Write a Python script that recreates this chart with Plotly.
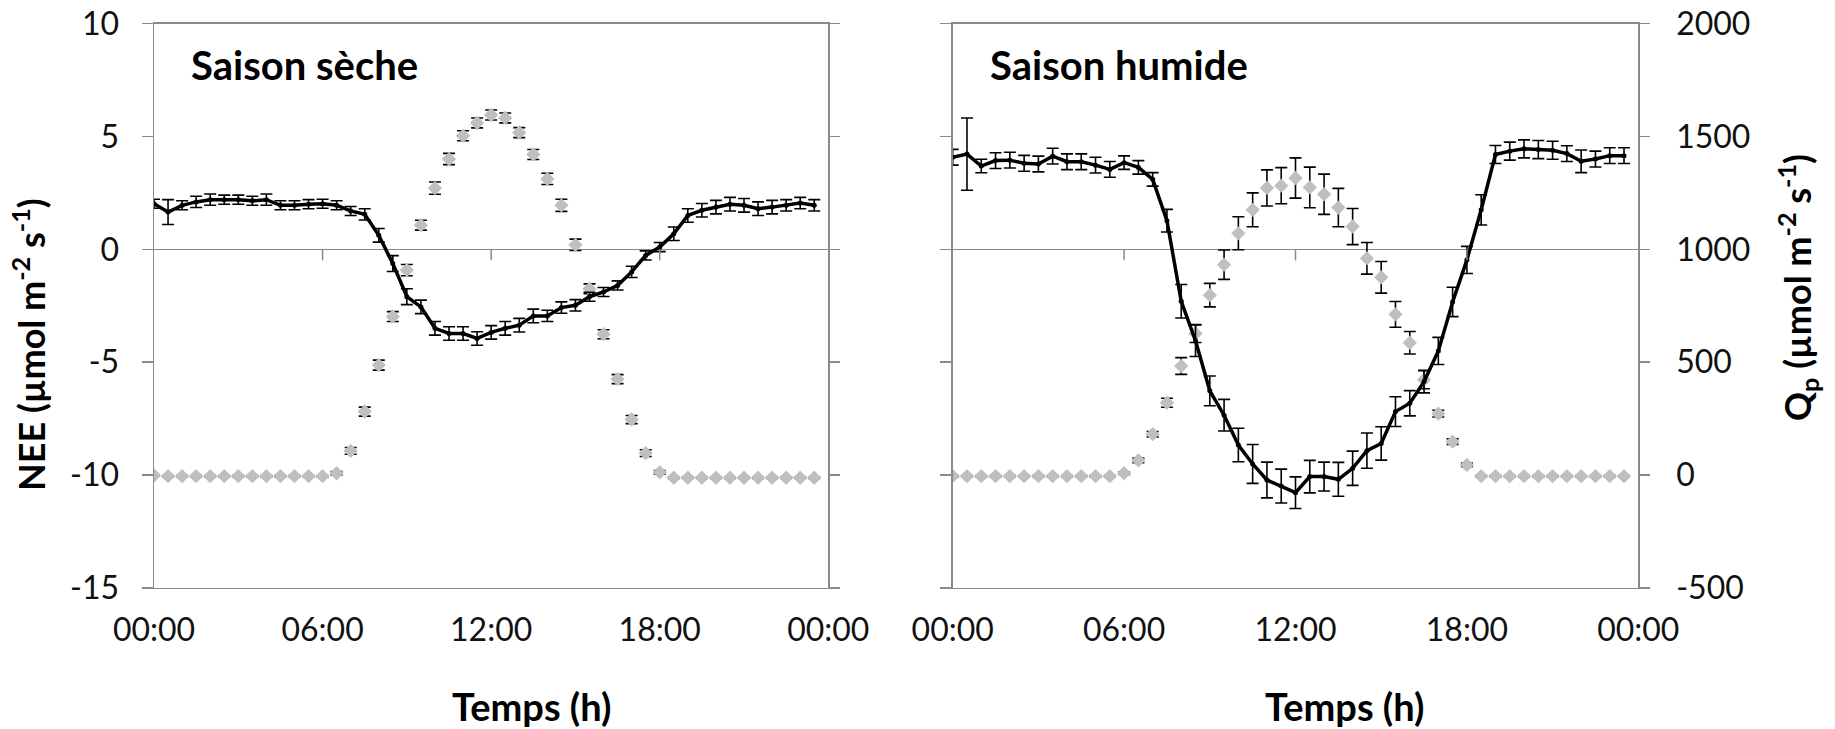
import plotly.graph_objects as go

# ---------------- data ----------------
hours = [0, 0.5, 1, 1.5, 2, 2.5, 3, 3.5, 4, 4.5, 5, 5.5, 6, 6.5, 7, 7.5, 8, 8.5, 9, 9.5,
         10, 10.5, 11, 11.5, 12, 12.5, 13, 13.5, 14, 14.5, 15, 15.5, 16, 16.5, 17, 17.5,
         18, 18.5, 19, 19.5, 20, 20.5, 21, 21.5, 22, 22.5, 23, 23.5]

tick_vals = [0, 6, 12, 18, 24]
tick_text = ["00:00", "06:00", "12:00", "18:00", "00:00"]
nee_ticks = [-15, -10, -5, 0, 5, 10]
nee_tick_text = ["-15", "-10", "-5", "0", "5", "10"]
qp_ticks = [-500, 0, 500, 1000, 1500, 2000]
qp_tick_text = ["-500", "0", "500", "1000", "1500", "2000"]

# Saison sèche
nee_dry = [2.02, 1.65, 1.95, 2.1, 2.2, 2.2, 2.2, 2.15, 2.2, 1.95, 1.95, 2.0, 2.02, 1.95, 1.7, 1.55,
           0.62, -0.63, -2.1, -2.55, -3.5, -3.73, -3.73, -3.95, -3.68, -3.5, -3.36, -2.95, -2.95,
           -2.58, -2.48, -2.1, -1.89, -1.6, -1.0, -0.27, 0.1, 0.69, 1.5, 1.73, 1.87, 2.0, 1.95,
           1.8, 1.87, 1.95, 2.05, 1.95]
nee_dry_err = [0.2, 0.55, 0.2, 0.25, 0.25, 0.2, 0.2, 0.2, 0.25, 0.2, 0.2, 0.2, 0.2, 0.2, 0.2, 0.25,
               0.3, 0.35, 0.35, 0.3, 0.3, 0.3, 0.3, 0.3, 0.3, 0.3, 0.3, 0.3, 0.25, 0.25, 0.25, 0.2,
               0.2, 0.2, 0.25, 0.2, 0.2, 0.3, 0.3, 0.3, 0.3, 0.3, 0.3, 0.3, 0.3, 0.25, 0.25, 0.25]
qp_dry = [-2, -5, -5, -5, -5, -5, -5, -5, -5, -5, -5, -5, -5, 8, 107, 281, 487, 702, 908, 1107,
          1271, 1400, 1503, 1560, 1595, 1582, 1517, 1420, 1312, 1195, 1020, 825, 624, 425, 246,
          97, 12, -12, -12, -12, -12, -12, -12, -12, -12, -12, -12, -12]
qp_dry_err = [3, 3, 3, 3, 3, 3, 3, 3, 3, 3, 3, 3, 3, 8, 15, 20, 22, 22, 25, 22, 27, 25, 22, 22,
              22, 22, 22, 22, 25, 27, 25, 22, 20, 20, 18, 15, 8, 3, 3, 3, 3, 3, 3, 3, 3, 3, 3, 3]

# Saison humide
nee_wet = [4.08, 4.22, 3.69, 3.93, 3.95, 3.81, 3.78, 4.13, 3.88, 3.88, 3.73, 3.54, 3.84, 3.63,
           3.1, 1.27, -2.3, -4.05, -6.27, -7.35, -8.67, -9.51, -10.22, -10.49, -10.78, -10.07,
           -10.07, -10.19, -9.7, -8.92, -8.6, -7.19, -6.82, -5.86, -4.5, -2.33, -0.47, 1.75,
           4.2, 4.35, 4.45, 4.42, 4.39, 4.24, 3.9, 4.0, 4.15, 4.15]
nee_wet_err = [0.35, 1.6, 0.3, 0.35, 0.35, 0.35, 0.35, 0.35, 0.35, 0.35, 0.35, 0.35, 0.3, 0.3,
               0.3, 0.5, 0.74, 0.7, 0.66, 0.7, 0.74, 0.86, 0.79, 0.75, 0.7, 0.72, 0.64, 0.75,
               0.76, 0.78, 0.74, 0.66, 0.56, 0.5, 0.6, 0.65, 0.6, 0.67, 0.4, 0.4, 0.4, 0.4, 0.4,
               0.35, 0.5, 0.35, 0.35, 0.35]
qp_wet = [-5, -5, -5, -5, -5, -5, -5, -5, -5, -5, -5, -5, 8, 65, 181, 320, 483, 627, 797, 932,
          1071, 1175, 1272, 1282, 1316, 1274, 1244, 1185, 1101, 960, 876, 712, 586, 422, 272,
          148, 45, -5, -5, -5, -5, -5, -5, -5, -5, -5, -5, -5]
qp_wet_err = [3, 3, 3, 3, 3, 3, 3, 3, 3, 3, 3, 3, 5, 10, 12, 20, 37, 40, 52, 65, 73, 75, 80, 80,
              89, 90, 89, 85, 80, 70, 70, 57, 50, 40, 15, 12, 8, 3, 3, 3, 3, 3, 3, 3, 3, 3, 3, 3]

# ---------------- style ----------------
W, H = 1835, 729
AX = "#8a8a8a"
GREY = "#BFBFBF"
FONT = "Lato"
TXT = "#111111"
tickfont = dict(family=FONT, size=32, color=TXT)

yd = [1 - 587.9 / H, 1 - 23.6 / H]
xd1 = [154 / W, 828.3 / W]
xd2 = [952.7 / W, 1638.3 / W]

fig = go.Figure()


def add_panel(xa, ya_qp, ya_nee, nee, nee_err, qp, qp_err):
    fig.add_trace(go.Scatter(
        x=hours, y=qp, xaxis=xa, yaxis=ya_qp, mode="markers",
        marker=dict(symbol="diamond", size=11, color=GREY),
        error_y=dict(type="data", array=qp_err, visible=True, color="#000000",
                     thickness=1.6, width=6),
        showlegend=False))
    fig.add_trace(go.Scatter(
        x=hours, y=nee, xaxis=xa, yaxis=ya_nee, mode="lines+markers",
        line=dict(color="#000000", width=3.5),
        marker=dict(symbol="circle", size=5, color="#000000"),
        error_y=dict(type="data", array=nee_err, visible=True, color="#000000",
                     thickness=1.6, width=6),
        showlegend=False))


add_panel("x", "y", "y2", nee_dry, nee_dry_err, qp_dry, qp_dry_err)
add_panel("x2", "y3", "y4", nee_wet, nee_wet_err, qp_wet, qp_wet_err)

xcommon = dict(range=[0, 24], tickvals=tick_vals, ticktext=tick_text, ticks="",
               showline=True, linecolor=AX, linewidth=1.5, mirror=True,
               showgrid=False, zeroline=False, tickfont=tickfont,
               ticklabelstandoff=13, automargin=False, fixedrange=True)
qpcommon = dict(range=[-500, 2000], tickvals=qp_ticks, ticktext=qp_tick_text, side="right",
                ticks="outside", ticklen=10, tickwidth=1.5, tickcolor=AX, showline=True,
                linecolor=AX, linewidth=1.5, showgrid=False, zeroline=False, tickfont=tickfont,
                automargin=False, domain=yd, fixedrange=True)
neecommon = dict(range=[-15, 10], tickvals=nee_ticks, ticktext=nee_tick_text, side="left",
                 ticks="outside", ticklen=11, tickwidth=1.5, tickcolor=AX, showline=True,
                 linecolor=AX, linewidth=1.5, showgrid=False, zeroline=True, zerolinecolor=AX,
                 zerolinewidth=1.5, tickfont=tickfont, automargin=False, fixedrange=True)

fig.update_layout(
    width=W, height=H, autosize=False,
    margin=dict(l=0, r=0, t=0, b=0, pad=0),
    paper_bgcolor="white", plot_bgcolor="rgba(0,0,0,0)",
    showlegend=False,
    xaxis=dict(domain=xd1, anchor="y", **xcommon),
    xaxis2=dict(domain=xd2, anchor="y3", **xcommon),
    yaxis=dict(anchor="x", showticklabels=False, **qpcommon),
    yaxis2=dict(anchor="x", overlaying="y", showticklabels=True, ticklabelstandoff=16,
                **neecommon),
    yaxis3=dict(anchor="x2", showticklabels=True, ticklabelstandoff=20, **qpcommon),
    yaxis4=dict(anchor="x2", overlaying="y3", showticklabels=False, **neecommon),
)

# small tick marks under the zero line at 06:00, 12:00, 18:00
shapes = []
for xa, ya in (("x", "y2"), ("x2", "y4")):
    for tv in tick_vals[1:4]:
        shapes.append(dict(type="line", xref=xa, yref=ya, x0=tv, x1=tv,
                           ysizemode="pixel", yanchor=0, y0=0, y1=-11,
                           line=dict(color=AX, width=1.5)))
fig.update_layout(shapes=shapes)

label_font = dict(family=FONT, size=40, color="#000000")
temps_font = dict(family=FONT, size=38, color="#000000")
title_font = dict(family=FONT, size=36, color="#000000")
ann = [
    dict(text="<b>Saison sèche</b>", x=189 / W, y=1 - 65 / H, xanchor="left", yanchor="middle",
         font=label_font),
    dict(text="<b>Saison humide</b>", x=988 / W, y=1 - 65 / H, xanchor="left", yanchor="middle",
         font=label_font),
    dict(text="<b>Temps (h)</b>", x=532 / W, y=1 - 706 / H, xanchor="center", yanchor="middle",
         font=temps_font),
    dict(text="<b>Temps (h)</b>", x=1345 / W, y=1 - 706 / H, xanchor="center", yanchor="middle",
         font=temps_font),
    dict(text="<b>NEE (µmol m<sup>-2</sup> s<sup>-1</sup>)</b>", x=29 / W, y=1 - 345 / H,
         xanchor="center", yanchor="middle", textangle=-90, font=title_font),
    dict(text="<b>Q<sub>p</sub> (µmol m<sup>-2</sup> s<sup>-1</sup>)</b>", x=1797 / W,
         y=1 - 288 / H, xanchor="center", yanchor="middle", textangle=-90, font=title_font),
]
for a in ann:
    a.update(xref="paper", yref="paper", showarrow=False)
fig.update_layout(annotations=ann)

fig.write_html("out.html", config={"displayModeBar": False, "staticPlot": True},
               post_script="document.body.style.margin='0';document.body.style.padding='0';")
